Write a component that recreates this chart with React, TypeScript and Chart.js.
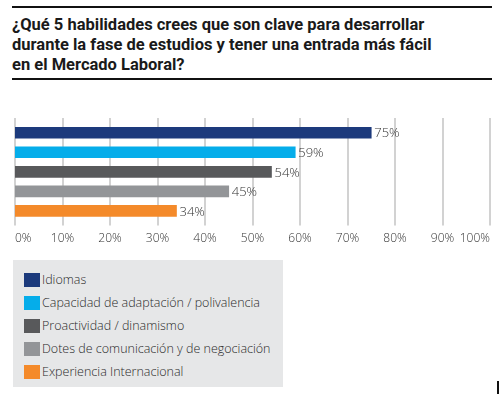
import React, { useEffect, useRef } from "react";
import { Chart, registerables } from "chart.js";

Chart.register(...registerables);

const categories = [
  "Idiomas",
  "Capacidad de adaptación / polivalencia",
  "Proactividad / dinamismo",
  "Dotes de comunicación y de negociación",
  "Experiencia Internacional",
];
const values = [75, 59, 54, 45, 34];
const colors = ["#1c3a7c", "#05adea", "#58595b", "#939598", "#f48a2a"];
const titleLines = [
  "¿Qué 5 habilidades crees que son clave para desarrollar",
  "durante la fase de estudios y tener una entrada más fácil",
  "en el Mercado Laboral?",
];
const xMin = 0;
const xMax = 100;
const xStep = 10;

const FONT = "'Open Sans', 'DejaVu Sans', sans-serif";

const gridPlugin = {
  id: "extGrid",
  beforeDatasetsDraw(chart: any) {
    const { ctx, chartArea, scales } = chart;
    const xs = scales.x;
    ctx.save();
    ctx.strokeStyle = "#d2d2d2";
    ctx.lineWidth = 2;
    xs.ticks.forEach((t: any) => {
      const px = Math.round(xs.getPixelForValue(t.value));
      ctx.beginPath();
      ctx.moveTo(px, chartArea.top - 5);
      ctx.lineTo(px, chartArea.bottom + 5);
      ctx.stroke();
    });
    ctx.restore();
  },
};

const labelPlugin = {
  id: "valLabels",
  afterDatasetsDraw(chart: any) {
    const { ctx } = chart;
    const meta = chart.getDatasetMeta(0);
    ctx.save();
    ctx.font = `300 13px ${FONT}`;
    ctx.fillStyle = "#333333";
    ctx.textAlign = "left";
    ctx.textBaseline = "middle";
    meta.data.forEach((bar: any, i: number) => {
      ctx.fillText(`${values[i]}%`, bar.x + 3, bar.y + 1);
    });
    ctx.restore();
  },
};

function BarChart() {
  const ref = useRef<HTMLCanvasElement>(null);
  useEffect(() => {
    if (!ref.current) return;
    const chart = new Chart(ref.current, {
      type: "bar",
      data: {
        labels: categories,
        datasets: [
          {
            data: values,
            backgroundColor: colors,
            borderWidth: 0,
            barThickness: 11,
          },
        ],
      },
      options: {
        indexAxis: "y",
        animation: false,
        responsive: false,
        maintainAspectRatio: false,
        layout: { padding: { top: 23, left: 15, right: 14, bottom: 5 } },
        plugins: { legend: { display: false }, tooltip: { enabled: false } },
        scales: {
          y: { display: false },
          x: {
            min: xMin,
            max: xMax,
            grid: { display: false, drawTicks: false },
            border: { display: false },
            ticks: {
              stepSize: xStep,
              align: "inner",
              padding: 11,
              color: "#333333",
              font: { family: FONT, size: 12, weight: "300" },
              callback: (v: any) => `${v}%`,
            },
          },
        },
      },
      plugins: [gridPlugin, labelPlugin],
    } as any);
    return () => chart.destroy();
  }, []);
  return (
    <canvas
      ref={ref}
      width={504}
      height={162}
      style={{ position: "absolute", left: 0, top: 100, width: 504, height: 162 }}
    />
  );
}

export default function App() {
  return (
    <div
      style={{
        position: "fixed",
        left: 0,
        top: 0,
        width: 504,
        height: 394,
        background: "#ffffff",
        overflow: "hidden",
      }}
    >
      <div style={{ position: "absolute", left: 12, top: 6, width: 480, height: 2, background: "#111" }} />
      <div
        style={{
          position: "absolute",
          left: 12,
          top: 15,
          fontFamily: "'Roboto', sans-serif",
          fontWeight: 700,
          fontSize: 16.5,
          lineHeight: "20px",
          color: "#1a1a1a",
          whiteSpace: "nowrap",
        }}
      >
        {titleLines.map((l, i) => (
          <div key={i}>{l}</div>
        ))}
      </div>
      <div style={{ position: "absolute", left: 12, top: 78, width: 480, height: 2, background: "#111" }} />
      <BarChart />
      <div
        style={{
          position: "absolute",
          left: 13,
          top: 260,
          width: 270,
          height: 127,
          background: "#e6e7e8",
        }}
      >
        {categories.map((c, i) => (
          <div
            key={c}
            style={{
              position: "absolute",
              left: 11,
              top: 12 + i * 23,
              height: 15,
              display: "flex",
              alignItems: "center",
              whiteSpace: "nowrap",
            }}
          >
            <span style={{ width: 16, height: 14, background: colors[i], display: "inline-block" }} />
            <span
              style={{
                marginLeft: 2,
                fontFamily: FONT,
                fontWeight: 300,
                fontSize: 12.5,
                color: "#2a2a2a",
              }}
            >
              {c}
            </span>
          </div>
        ))}
      </div>
      <div style={{ position: "absolute", left: 497, top: 381, width: 2, height: 13, background: "#111" }} />
    </div>
  );
}
